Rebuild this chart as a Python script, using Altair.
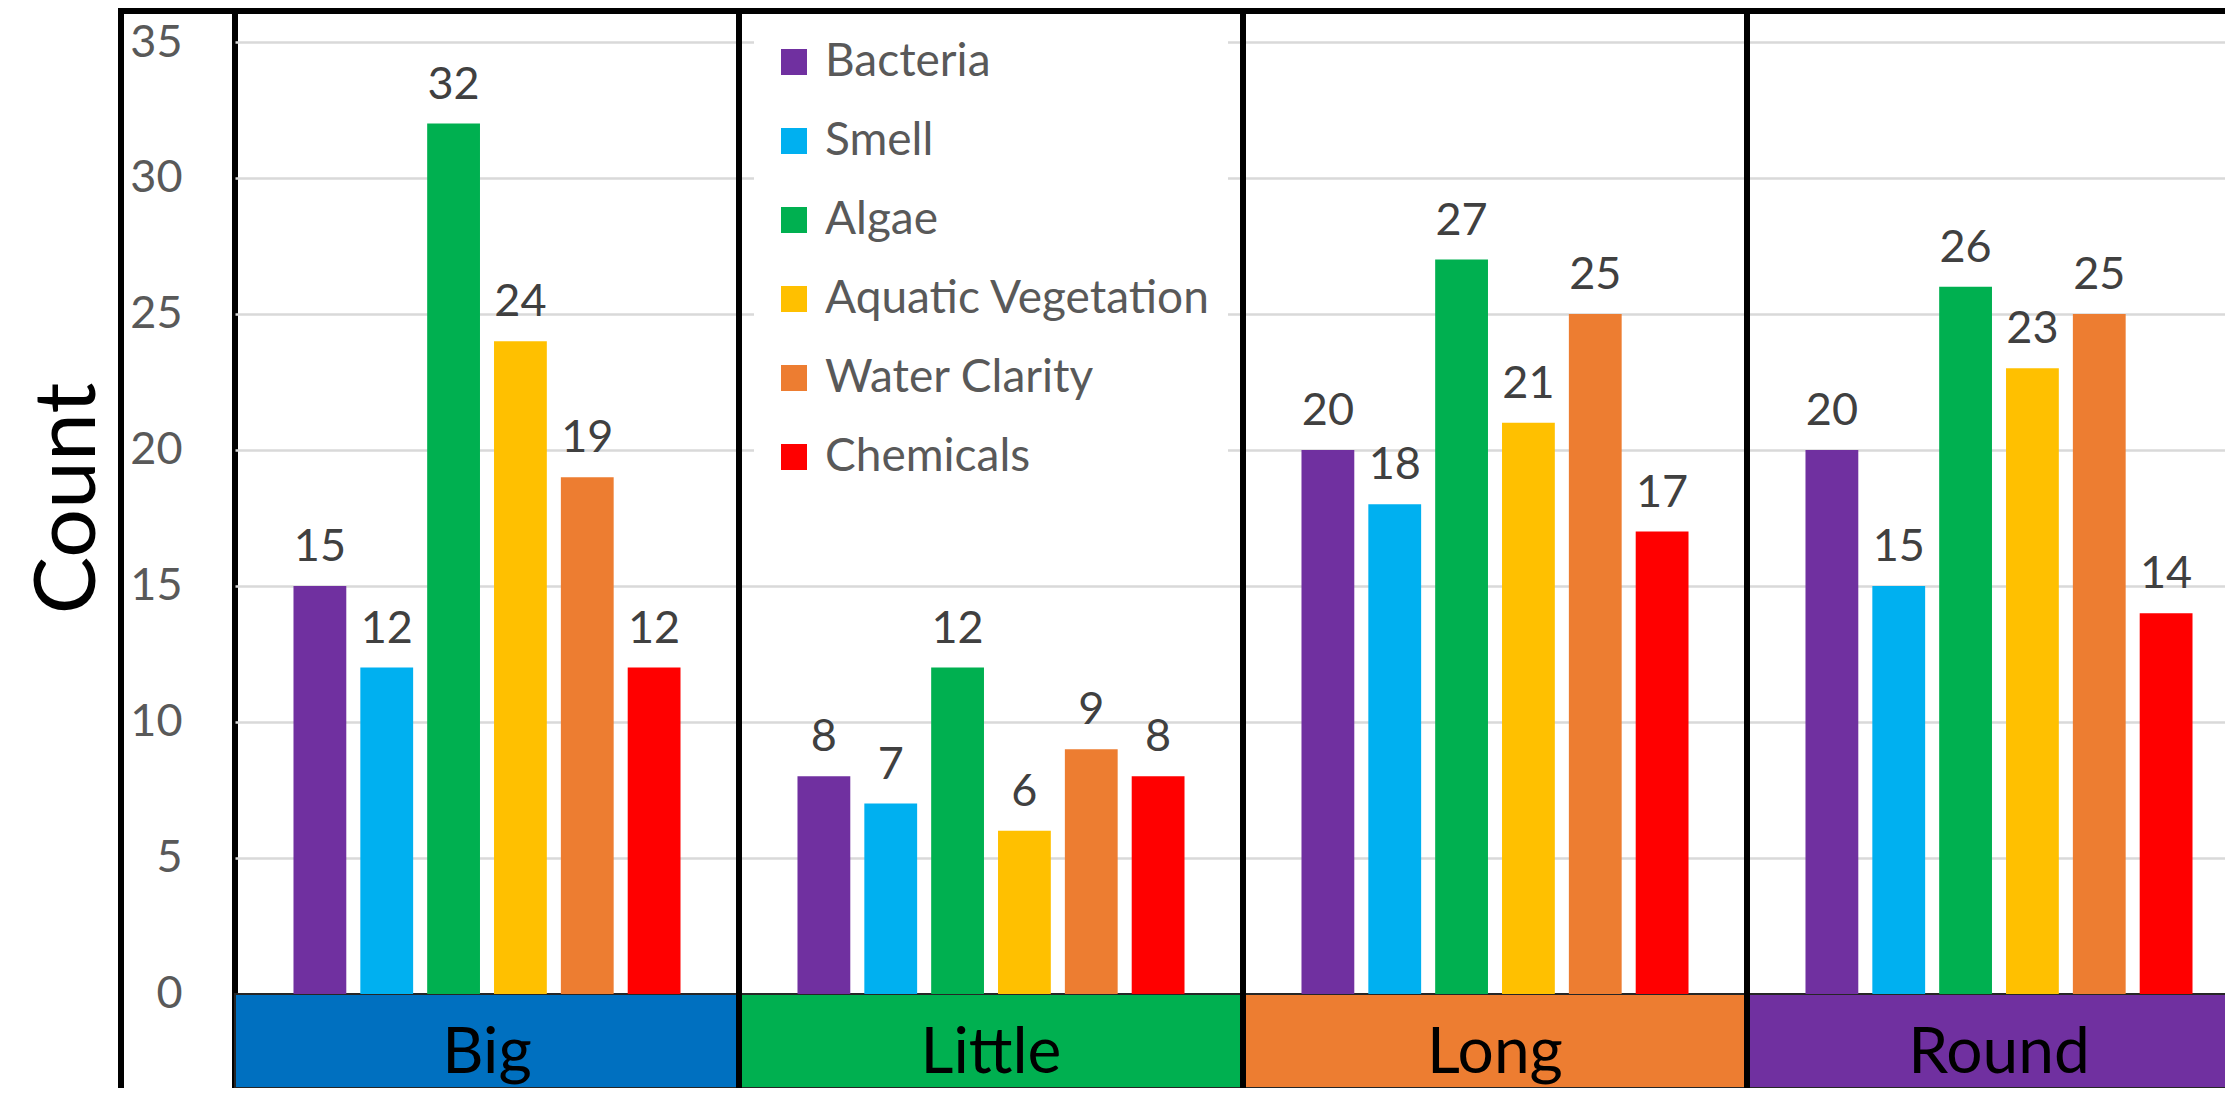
import altair as alt
import pandas as pd

shapes = ["Big", "Little", "Long", "Round"]
issues = ["Bacteria", "Smell", "Algae", "Aquatic Vegetation", "Water Clarity", "Chemicals"]
counts_big = [15, 12, 32, 24, 19, 12]
counts_little = [8, 7, 12, 6, 9, 8]
counts_long = [20, 18, 27, 21, 25, 17]
counts_round = [20, 15, 26, 23, 25, 14]
issue_colors = ["#7030A0", "#00B0F0", "#00B050", "#FFC000", "#ED7D31", "#FF0000"]
strip_colors = ["#0070C0", "#00B050", "#ED7D31", "#7030A0"]
y_ticks = [0, 5, 10, 15, 20, 25, 30, 35]

rows = []
for s, vals in zip(shapes, [counts_big, counts_little, counts_long, counts_round]):
    for i, v in zip(issues, vals):
        rows.append({"shape": s, "issue": i, "count": v})
df = pd.DataFrame(rows)
strip_df = pd.DataFrame({"shape": shapes, "fill": strip_colors})
sep_df = pd.DataFrame({"shape": shapes[1:]})
one = pd.DataFrame({"k": [0]})

W = 2016
H = 1077
Y_MIN = -3.46
Y_MAX = 36.14
FONT = "Lato"

xscale = alt.Scale(domain=shapes, paddingInner=0, paddingOuter=0)
yscale = alt.Scale(domain=[Y_MIN, Y_MAX], nice=False, zero=False)
xoff = alt.XOffset("issue:N", scale=alt.Scale(domain=issues, paddingInner=0.21, paddingOuter=0.875), sort=issues)
xenc = alt.X("shape:N", scale=xscale, axis=None, sort=shapes)

yaxis = alt.Axis(
    values=y_ticks,
    title="Count",
    titleFont=FONT,
    titleFontSize=86,
    titleFontWeight="normal",
    titleColor="black",
    titleAngle=270,
    titleX=-141,
    titleY=487,
    titleAlign="center",
    titleBaseline="alphabetic",
    labelFont=FONT,
    labelFontSize=45,
    labelColor="#595959",
    labelPadding=53,
    ticks=False,
    tickSize=0,
    domain=False,
    grid=True,
    gridColor="#d9d9d9",
    gridWidth=2.5,
)

strips = alt.Chart(strip_df).mark_rect(stroke="#262626", strokeWidth=2).encode(
    x=xenc,
    y=alt.YDatum(Y_MIN, scale=yscale, axis=yaxis, title="Count"),
    y2=alt.Y2Datum(0),
    fill=alt.Color("fill:N", scale=None),
)

strip_text = alt.Chart(strip_df).mark_text(
    font=FONT, fontSize=64, color="black", baseline="alphabetic", align="center"
).encode(
    x=xenc,
    y=alt.YDatum(-2.9, scale=yscale, axis=yaxis, title="Count"),
    text="shape:N",
)

bars = alt.Chart(df).mark_bar().encode(
    x=xenc,
    xOffset=xoff,
    y=alt.Y("count:Q", scale=yscale, axis=yaxis, title="Count"),
    y2=alt.Y2Datum(0),
    color=alt.Color(
        "issue:N",
        scale=alt.Scale(domain=issues, range=issue_colors),
        sort=issues,
        legend=alt.Legend(
            title=None,
            orient="none",
            legendX=519,
            legendY=11,
            fillColor="white",
            padding=17,
            symbolType="square",
            symbolSize=676,
            symbolStrokeWidth=0,
            labelFont=FONT,
            labelFontSize=46,
            labelColor="#595959",
            labelOffset=8,
            rowPadding=33,
            labelLimit=0,
        ),
    ),
)

labels = alt.Chart(df).mark_text(
    font=FONT, fontSize=45, color="#404040", baseline="alphabetic", align="center", dy=-25
).encode(
    x=xenc,
    xOffset=xoff,
    y=alt.Y("count:Q", scale=yscale, axis=yaxis, title="Count"),
    text="count:Q",
)

seps = alt.Chart(sep_df).mark_rule(color="black", strokeWidth=6).encode(
    x=alt.X("shape:N", scale=xscale, axis=None, sort=shapes, bandPosition=0),
    y=alt.YDatum(Y_MAX, scale=yscale, axis=yaxis, title="Count"),
    y2=alt.Y2Datum(Y_MIN),
)

outer_left = alt.Chart(one).mark_rule(color="black", strokeWidth=6).encode(
    x=alt.value(-114), y=alt.value(0), y2=alt.value(H)
)
outer_top = alt.Chart(one).mark_rule(color="black", strokeWidth=6).encode(
    x=alt.value(-117), x2=alt.value(0), y=alt.value(0)
)

chart = alt.layer(strips, strip_text, bars, labels, seps, outer_left, outer_top).properties(
    width=W,
    height=H,
    autosize=alt.AutoSizeParams(type="none"),
    padding={"left": 227, "top": 3, "right": -26, "bottom": 0},
).configure_view(stroke="black", strokeWidth=6)

chart.save("out.html", embed_options={"renderer": "svg", "actions": False})
